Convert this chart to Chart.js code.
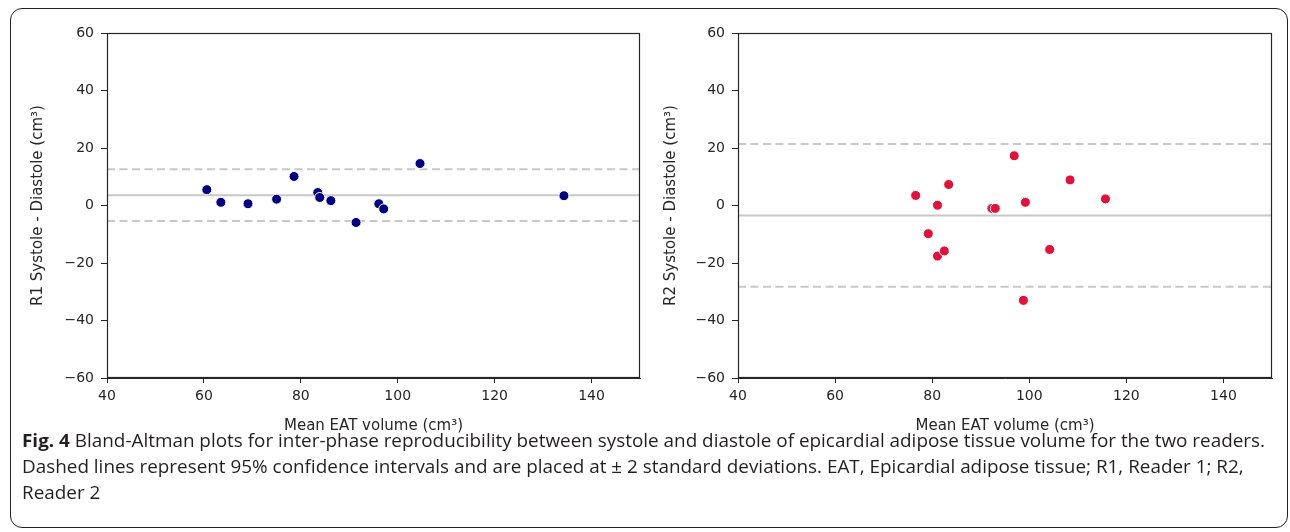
<!DOCTYPE html>
<html>
<head>
<meta charset="utf-8">
<script src="https://cdn.jsdelivr.net/npm/chart.js@4.4.1/dist/chart.umd.min.js"></script>
<style>
  html, body { margin: 0; padding: 0; background: #fff; width: 1290px; height: 532px; overflow: hidden; }
  #frame { position: absolute; left: 10px; top: 8px; width: 1278px; height: 520px; border: 1.5px solid #222;
           border-radius: 12px; box-sizing: border-box; }
  canvas { position: absolute; top: 0; }
  #c1 { left: 0; }
  #c2 { left: 650px; }
  #caption { position: absolute; left: 22px; top: 427px; font-family: 'Open Sans', sans-serif; font-size: 17.5px;
             color: #231f20; line-height: 26px; white-space: nowrap; transform-origin: 0 0; }
  #caption b { font-weight: 700; }
</style>
</head>
<body>
<div id="frame"></div>
<canvas id="c1" width="650" height="440"></canvas>
<canvas id="c2" width="640" height="440"></canvas>
<div id="caption">
  <div id="line1"><span><b>Fig. 4</b> Bland-Altman plots for inter-phase reproducibility between systole and diastole of epicardial adipose tissue volume for the two readers.</span></div>
  <div>Dashed lines represent 95% confidence intervals and are placed at ± 2 standard deviations. EAT, Epicardial adipose tissue; R1, Reader 1; R2,</div>
  <div>Reader 2</div>
</div>
<script>
// Reader 1: mean EAT volume vs systole - diastole difference (cm³)
const r1Mean = [60.6, 63.5, 69.1, 75.0, 78.6, 83.5, 83.9, 86.2, 91.4, 96.1, 97.1, 104.6, 134.3];
const r1Diff = [5.5, 1.1, 0.6, 2.2, 10.1, 4.5, 2.8, 1.7, -5.9, 0.6, -1.2, 14.6, 3.4];
const r1Bias = 3.6;
const r1Upper = 12.6;
const r1Lower = -5.4;

// Reader 2
const r2Mean = [76.6, 81.1, 83.4, 79.2, 81.1, 82.5, 92.3, 93.0, 96.9, 99.2, 98.8, 104.2, 108.4, 115.7];
const r2Diff = [3.5, 0.1, 7.3, -9.8, -17.6, -15.8, -1.0, -1.0, 17.3, 1.1, -33.0, -15.3, 8.9, 2.3];
const r2Bias = -3.45;
const r2Upper = 21.4;
const r2Lower = -28.3;

// Axis ranges and tick values
const xRange = [40, 150];
const yRange = [-60, 60];
const xStep = 20;
const yStep = 20;

const INK = '#262626';
const LIMIT_GREY = '#c8c8c8';

const fmt = v => String(v).replace('-', '\u2212');

// Full rectangular frame around the plotting area
const boxPlugin = {
  id: 'box',
  afterDraw(chart) {
    const { ctx, chartArea: a } = chart;
    ctx.save();
    ctx.strokeStyle = INK;
    ctx.lineWidth = 1.2;
    const l = Math.round(a.left) + 0.5, t = Math.round(a.top) + 0.5;
    const r = Math.round(a.right) - 0.5, b = Math.round(a.bottom) - 0.5;
    ctx.strokeRect(l, t, r - l, b - t);
    ctx.restore();
  }
};

function hLine(value, dashed) {
  return {
    type: 'line',
    data: [{ x: xRange[0], y: value }, { x: xRange[1], y: value }],
    borderColor: LIMIT_GREY,
    borderWidth: 2,
    borderDash: dashed ? [8, 4.5] : [],
    pointRadius: 0,
    showLine: true,
    fill: false
  };
}

function makeChart(id, xs, ys, bias, upper, lower, color, yTitle, axisWidth, titlePad, padRight) {
  const pts = xs.map((x, i) => ({ x: x, y: ys[i] }));
  return new Chart(document.getElementById(id), {
    type: 'scatter',
    data: {
      datasets: [
        {
          data: pts,
          backgroundColor: color,
          borderColor: '#ffffff',
          borderWidth: 1,
          pointRadius: 5,
          pointHoverRadius: 5
        },
        hLine(bias, false),
        hLine(upper, true),
        hLine(lower, true)
      ]
    },
    options: {
      responsive: false,
      animation: false,
      events: [],
      layout: { padding: { left: 0, right: padRight, top: 33, bottom: 0 } },
      plugins: { legend: { display: false }, tooltip: { enabled: false } },
      scales: {
        x: {
          type: 'linear',
          min: xRange[0], max: xRange[1],
          ticks: { stepSize: xStep, includeBounds: false, callback: fmt, color: INK,
                   font: { family: 'DejaVu Sans', size: 14 }, padding: 5, maxRotation: 0 },
          grid: { display: true, drawOnChartArea: false, drawTicks: true, tickLength: 5, color: INK },
          border: { display: true, color: INK, width: 1 },
          title: { display: true, text: 'Mean EAT volume (cm\u00b3)', color: INK,
                   font: { family: 'DejaVu Sans', size: 15 }, padding: { top: 0, bottom: 5 } },
          afterFit(s) { s.height = 62; }
        },
        y: {
          type: 'linear',
          min: yRange[0], max: yRange[1],
          ticks: { stepSize: yStep, includeBounds: false, callback: fmt, color: INK,
                   font: { family: 'DejaVu Sans', size: 14 }, padding: 7 },
          grid: { display: true, drawOnChartArea: false, drawTicks: true, tickLength: 6, color: INK },
          border: { display: true, color: INK, width: 1 },
          title: { display: true, text: yTitle, color: INK,
                   font: { family: 'DejaVu Sans', size: 15 }, padding: { top: titlePad, bottom: 0 } },
          afterFit(s) { s.width = axisWidth; }
        }
      }
    },
    plugins: [boxPlugin]
  });
}

makeChart('c1', r1Mean, r1Diff, r1Bias, r1Upper, r1Lower, '#00007f',
          'R1 Systole - Diastole (cm\u00b3)', 107, 29, 10);
makeChart('c2', r2Mean, r2Diff, r2Bias, r2Upper, r2Lower, '#dc143c',
          'R2 Systole - Diastole (cm\u00b3)', 88, 12, 18);

// Caption set to the figure width
const cap = document.getElementById('caption');
const w = document.querySelector('#line1 span').getBoundingClientRect().width;
cap.style.transform = 'scaleX(' + (1243 / w) + ')';
</script>
</body>
</html>
